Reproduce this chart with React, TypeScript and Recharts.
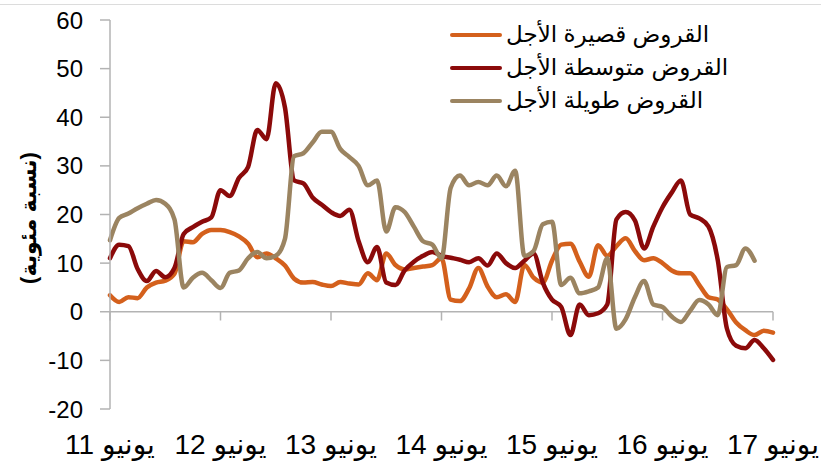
import React from 'react'
import { LineChart, Line, XAxis, YAxis, ReferenceLine } from 'recharts'

// ---------------------------------------------------------------------------
// Data — monthly, June 2011 (index 0) to June 2017 (index 72)
// ---------------------------------------------------------------------------

const YEAR_LABELS = ['11', '12', '13', '14', '15', '16', '17']
const Y_TICKS = [-20, -10, 0, 10, 20, 30, 40, 50, 60]

const SHORT_TERM = [
  3.4, 2.0, 3.0, 2.8, 5.0, 6.0, 6.4, 7.8, 14.5, 14.3, 16.0, 16.8,
  16.8, 16.4, 15.5, 14.0, 11.2, 12.0, 11.0, 9.5, 6.8, 6.0, 6.1, 5.6,
  5.3, 6.1, 5.8, 5.6, 7.9, 6.5, 12.0, 9.6, 8.7, 9.0, 9.3, 9.6,
  11.0, 2.5, 2.2, 4.8, 9.0, 5.2, 3.0, 3.6, 2.0, 9.6, 7.0, 6.0,
  10.5, 13.8, 14.0, 10.3, 7.2, 13.7, 11.5, 13.5, 15.1, 12.5, 10.6, 11.0,
  10.0, 8.5, 7.9, 7.9, 5.5, 3.0, 2.5, 0.5, -2.2, -3.8, -4.8, -3.9,
  -4.3,
]

const MEDIUM_TERM = [
  11.0, 13.8, 13.5, 8.8, 6.3, 8.4, 7.1, 9.0, 16.0, 17.4, 18.5, 19.4,
  25.0, 23.8, 27.5, 29.8, 37.4, 35.5, 47.0, 42.0, 27.0, 26.4, 23.5, 22.0,
  20.5, 19.7, 21.0, 14.5, 10.2, 13.3, 6.0, 5.5, 8.5, 10.3, 11.5, 12.3,
  11.5, 11.1, 10.7, 10.2, 11.0, 9.5, 12.0, 10.0, 9.0, 10.5, 12.0, 6.0,
  2.5, 1.0, -4.8, 1.5, -0.7, -0.3, 1.5, 19.0, 20.5, 18.8, 13.0, 17.5,
  21.5, 24.5, 27.0, 20.0, 19.2, 17.5, 10.6, -3.5, -7.0, -7.5, -5.8, -7.5,
  -9.9,
]

const LONG_TERM = [
  14.7, 19.3, 20.2, 21.3, 22.2, 23.0, 22.2, 19.0, 5.0, 7.0, 8.0, 6.5,
  4.9, 8.0, 8.5, 11.0, 12.3, 11.0, 11.5, 15.0, 32.0, 32.6, 34.8, 37.0,
  37.0, 33.5, 31.8, 30.0, 26.0, 27.0, 16.5, 21.5, 20.5, 17.5, 14.5, 13.8,
  11.0, 25.5, 28.0, 26.0, 26.7, 26.0, 28.0, 25.8, 29.0, 11.5, 12.5, 18.0,
  18.5, 5.5, 7.0, 3.8, 4.2, 5.0, 11.0, -3.5, -1.5, 3.0, 6.3, 1.5,
  1.0, -1.0, -2.1, 0.2, 2.4, 1.5, -0.7, 9.2, 9.6, 13.0, 10.5, null,
  null,
]

const SERIES = [
  { key: 'short', name: 'القروض قصيرة الأجل', color: '#d4601c' },
  { key: 'medium', name: 'القروض متوسطة الأجل', color: '#8b0a0a' },
  { key: 'long', name: 'القروض طويلة الأجل', color: '#9b8461' },
]

const data = SHORT_TERM.map((v, m) => ({
  m,
  short: v,
  medium: MEDIUM_TERM[m],
  long: LONG_TERM[m],
}))

const YEAR_TICKS = YEAR_LABELS.map((_, i) => i * 12)

const FONT = '"Liberation Sans", Arial, "DejaVu Sans", sans-serif'
const AXIS_GRAY = '#b3b3b3'

// ---------------------------------------------------------------------------
// Custom pieces
// ---------------------------------------------------------------------------

function XTick({ x, y, payload }: any) {
  const label = YEAR_LABELS[Math.round(payload.value / 12)]
  return (
    <text
      x={x}
      y={y + 37}
      textAnchor="middle"
      direction="rtl"
      fontFamily={FONT}
      fontSize={28}
      fill="#000"
    >
      {`يونيو ${label}`}
    </text>
  )
}

// legend drawn as plain HTML so it doesn't steal room from the plot
function ChartLegend() {
  return (
    <div
      style={{
        position: 'absolute',
        left: 450,
        top: 18,
        fontFamily: FONT,
        fontSize: 23,
        color: '#000',
      }}
    >
      {SERIES.map((s) => (
        <div key={s.key} style={{ display: 'flex', alignItems: 'center', height: 33 }}>
          <span
            style={{
              display: 'inline-block',
              width: 52,
              height: 4,
              borderRadius: 2,
              background: s.color,
              marginRight: 4,
            }}
          />
          <span>{s.name}</span>
        </div>
      ))}
    </div>
  )
}

export default function App() {
  return (
    <div style={{ position: 'absolute', left: 0, top: 0, width: 821, height: 462, background: '#fff' }}>
      <div style={{ position: 'absolute', left: 0, top: 4, width: 821, height: 1, background: '#dcdcdc' }} />
      <LineChart
        width={821}
        height={462}
        data={data}
        margin={{ top: 20, right: 48, left: 0, bottom: 0 }}
      >
        <XAxis
          dataKey="m"
          type="number"
          domain={[0, 72]}
          ticks={YEAR_TICKS}
          axisLine={false}
          tickLine={false}
          height={53}
          tick={<XTick />}
          interval={0}
        />
        <YAxis
          domain={[-20, 60]}
          ticks={Y_TICKS}
          width={110}
          axisLine={{ stroke: AXIS_GRAY, strokeWidth: 1.5 }}
          tickLine={{ stroke: AXIS_GRAY, strokeWidth: 1.5 }}
          tickSize={10}
          tickMargin={17}
          tick={{ fontFamily: FONT, fontSize: 24, fill: '#000' }}
          interval={0}
          label={{
            content: () => (
              <text
                x={28}
                y={218}
                transform="rotate(-90 28 218)"
                textAnchor="middle"
                dominantBaseline="central"
                fontFamily={FONT}
                fontWeight="bold"
                fontSize={22}
                fill="#000"
              >
                (نسبة مئوية)
              </text>
            ),
          }}
        />
        <ReferenceLine y={0} stroke={AXIS_GRAY} strokeWidth={1.5} />
        {YEAR_TICKS.map((t) => (
          <ReferenceLine
            key={t}
            segment={[
              { x: t, y: 0 },
              { x: t, y: -1.8 },
            ]}
            stroke={AXIS_GRAY}
            strokeWidth={1.5}
          />
        ))}
        {SERIES.map((s) => (
          <Line
            key={s.key}
            type="monotone"
            dataKey={s.key}
            name={s.name}
            stroke={s.color}
            strokeWidth={4.5}
            strokeLinecap="round"
            strokeLinejoin="round"
            dot={false}
            activeDot={false}
            connectNulls={false}
            isAnimationActive={false}
          />
        ))}
      </LineChart>
      <ChartLegend />
    </div>
  )
}
